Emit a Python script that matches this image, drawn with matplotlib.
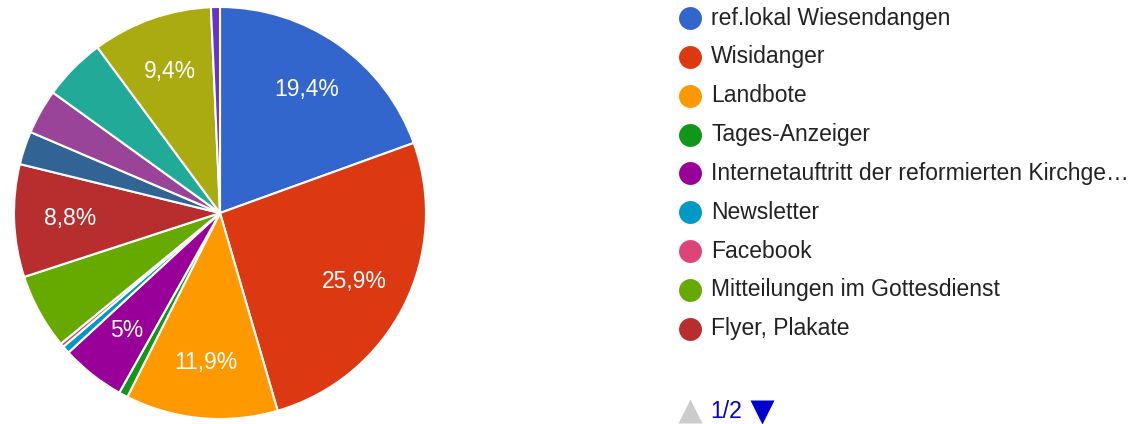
import matplotlib.pyplot as plt

plt.rcParams['font.family'] = ['Liberation Sans', 'DejaVu Sans']

# Anteile in Prozent (im Uhrzeigersinn ab 12 Uhr)
categories = ['ref.lokal Wiesendangen', 'Wisidanger', 'Landbote', 'Tages-Anzeiger',
              'Internetauftritt der reformierten Kirchge\u2026', 'Newsletter', 'Facebook',
              'Mitteilungen im Gottesdienst', 'Flyer, Plakate',
              'Andere 1', 'Andere 2', 'Andere 3', 'Andere 4', 'Andere 5']
values = [19.4, 25.9, 11.9, 0.7, 5.0, 0.6, 0.3, 5.9, 8.8, 2.6, 3.5, 4.9, 9.4, 0.7]
pct_labels = ['19,4%', '25,9%', '11,9%', '', '5%', '', '', '', '8,8%', '', '', '', '9,4%', '']
colors = ['#3366cc', '#dc3912', '#ff9900', '#109618', '#990099', '#0099c6', '#dd4477',
          '#66aa00', '#b82e2e', '#316395', '#994499', '#22aa99', '#aaaa11', '#6633cc']
legend_count = 9
page_text = '1/2'

W, H = 1144, 424
fig = plt.figure(figsize=(W / 100, H / 100), dpi=100)

# Kreisdiagramm
cx, cy, r = 220, 213, 206
ax = fig.add_axes([(cx - r) / W, (H - cy - r) / H, 2 * r / W, 2 * r / H])
wedges, texts = ax.pie(values, colors=colors, startangle=90, counterclock=False,
                       wedgeprops=dict(edgecolor='white', linewidth=1.5),
                       labels=pct_labels, labeldistance=0.73,
                       textprops=dict(color='white', fontsize=16.5, ha='center', va='center'))
ax.set_xlim(-1, 1)
ax.set_ylim(-1, 1)
ax.set_aspect('equal')
ax.axis('off')

# Legende (Seite 1/2)
lg = fig.add_axes([0, 0, 1, 1])
lg.set_xlim(0, W)
lg.set_ylim(H, 0)
lg.axis('off')
y0, dy = 18, 38.85
for i in range(legend_count):
    y = y0 + i * dy
    lg.plot(690, y, 'o', ms=16.5, color=colors[i], mec='none')
    lg.text(711, y, categories[i], fontsize=16.5, color='#222222', va='center', ha='left')

ny = 411
lg.plot(690, ny, '^', ms=17, color='#cccccc', mec='none')
lg.text(710, ny, page_text, fontsize=16.5, color='#0000cc', va='center', ha='left')
lg.plot(762, ny + 1, 'v', ms=17, color='#0000cc', mec='none')

fig.savefig('out.png', dpi=100)
